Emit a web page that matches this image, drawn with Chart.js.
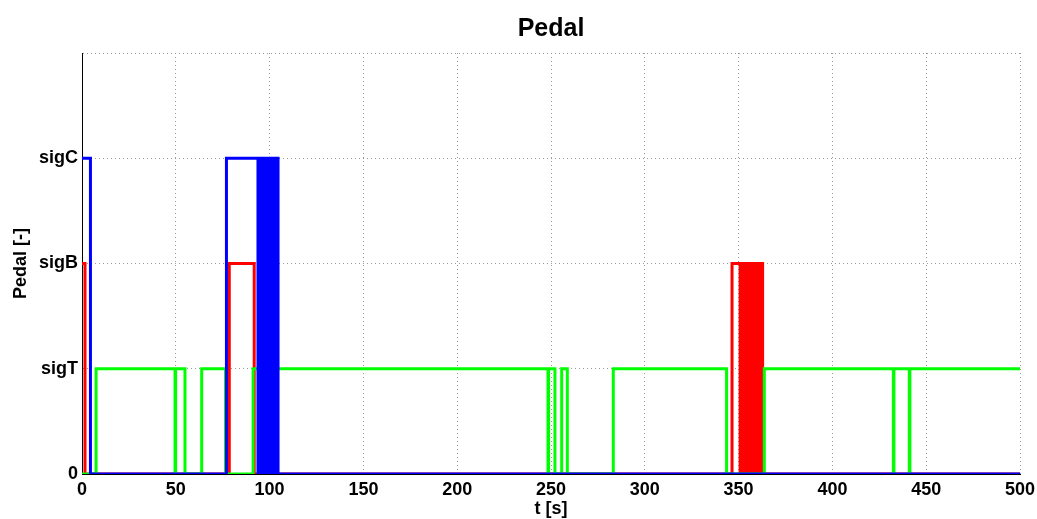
<!DOCTYPE html>
<html><head><meta charset="utf-8">
<script src="https://cdn.jsdelivr.net/npm/chart.js@4"></script>
<style>html,body{margin:0;padding:0;background:#fff}#wrap{width:1037px;height:519px}</style>
</head><body><div id="wrap"><canvas id="c" width="1037" height="519"></canvas></div>
<script>
// Signal levels (y ticks)
const yTickLabels = ['0', 'sigT', 'sigB', 'sigC', ''];
const xTicks = [0, 50, 100, 150, 200, 250, 300, 350, 400, 450, 500];
const chartTitle = 'Pedal';

// Blue signal: change times and new values
const blueT = [0, 4.5, 77, 93.8, 94.3, 94.9, 95.5, 95.7, 96.5, 97.0, 97.2, 97.4, 98.9, 99.3, 99.6, 99.8, 100.4, 100.7, 101.2, 101.6, 102.0, 102.5, 102.9, 103.4, 103.8, 104.5, 500];
const blueV = [3, 0, 3, 0, 3, 0, 3, 0, 3, 0, 3, 0, 3, 0, 3, 0, 3, 0, 3, 0, 3, 0, 3, 0, 3, 0, 0];

// Red signal
const redT = [0, 1.6, 78.5, 91.8, 346.5, 350.8, 351.3, 351.9, 352.5, 353.0, 353.6, 354.2, 354.8, 355.4, 356.0, 356.6, 357.2, 357.8, 358.4, 359.0, 359.6, 360.2, 360.8, 361.4, 362.0, 362.8, 500];
const redV = [2, 0, 2, 0, 2, 0, 2, 0, 2, 0, 2, 0, 2, 0, 2, 0, 2, 0, 2, 0, 2, 0, 2, 0, 2, 0, 0];

// Green signal
const greenT = [0, 7.5, 49.6, 49.9, 54.9, 63.8, 76.5, 91.2, 97.7, 97.9, 102.3, 102.5, 248.4, 248.7, 252.1, 255.7, 258.7, 283.2, 343.6, 363.7, 432.5, 432.8, 441.0, 441.3, 500];
const greenV = [0, 1, 0, 1, 0, 1, 0, 1, 0, 1, 0, 1, 0, 1, 0, 1, 0, 1, 0, 1, 0, 1, 0, 1, 1];

const pts = (t, v) => t.map((x, i) => ({x: x, y: v[i]}));
const FONT = "'Liberation Sans', Arial, sans-serif";
const GRID = '#999999';

new Chart(document.getElementById('c'), {
  type: 'line',
  data: {
    datasets: [
      {data: pts(blueT, blueV), borderColor: '#0000ff', borderWidth: 3, stepped: true, pointRadius: 0, fill: false},
      {data: pts(greenT, greenV), borderColor: '#00ff00', borderWidth: 3, stepped: true, pointRadius: 0, fill: false},
      {data: pts(redT, redV), borderColor: '#ff0000', borderWidth: 3, stepped: true, pointRadius: 0, fill: false}
    ]
  },
  options: {
    responsive: false,
    animation: false,
    layout: {padding: {left: 10, right: 17, top: 53, bottom: 0}},
    plugins: {
      legend: {display: false},
      tooltip: {enabled: false},
      title: {display: false}
    },
    scales: {
      x: {
        type: 'linear', min: 0, max: 500,
        afterBuildTicks: s => { s.ticks = xTicks.map(v => ({value: v})); },
        afterFit: s => { s.height = 45; s.paddingRight = 0; s.paddingLeft = 0; },
        ticks: {color: '#000', font: {family: FONT, size: 18, weight: 'bold'}, padding: 5, maxRotation: 0},
        grid: {color: GRID, lineWidth: 1, drawTicks: false},
        border: {display: true, color: '#000', width: 1, dash: [1, 3]},
        title: {display: true, text: 't [s]', color: '#000', font: {family: FONT, size: 18, weight: 'bold'}, padding: {top: 0, bottom: -1}}
      },
      y: {
        type: 'linear', min: 0, max: 4,
        afterBuildTicks: s => { s.ticks = yTickLabels.map((l, i) => ({value: i})); },
        afterFit: s => { s.width = 72; s.paddingTop = 0; s.paddingBottom = 0; },
        ticks: {color: '#000', font: {family: FONT, size: 18, weight: 'bold'}, padding: 4, callback: v => yTickLabels[v]},
        grid: {color: GRID, lineWidth: 1, drawTicks: false},
        border: {display: true, color: '#000', width: 1, dash: [1, 3]},
        title: {display: true, text: 'Pedal [-]', color: '#000', font: {family: FONT, size: 18, weight: 'bold'}, padding: {top: 0, bottom: 0}}
      }
    }
  },
  plugins: [{
    id: 'centeredTitle',
    afterDraw(chart) {
      const ctx = chart.ctx, a = chart.chartArea;
      ctx.save();
      ctx.fillStyle = '#000';
      ctx.font = "bold 25px " + FONT;
      ctx.textAlign = 'center';
      ctx.textBaseline = 'middle';
      ctx.fillText(chartTitle, (a.left + a.right) / 2, 29);
      ctx.restore();
    }
  }]
});
</script></body></html>
